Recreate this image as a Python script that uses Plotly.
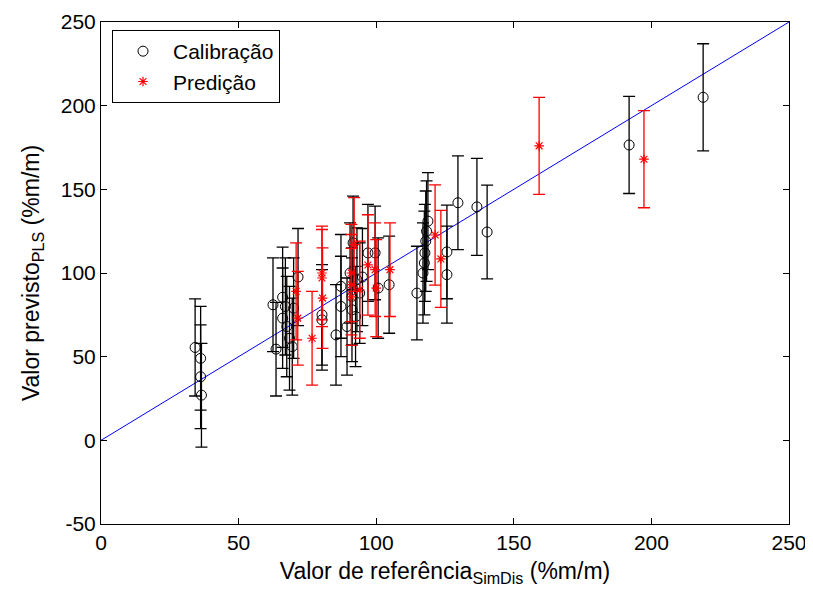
import plotly.graph_objects as go

# calibration set (reference vs PLS prediction, %m/m)
cal_x = [34.2, 36.2, 36.2, 36.5, 62.5, 63.6, 66.0, 66.0, 67.0, 67.5, 68.5, 69.5,
         70.0, 71.6, 80.3, 80.3, 85.4, 87.2, 87.2, 89.4, 90.5, 91.2, 91.2, 91.6,
         92.5, 93.0, 94.0, 95.0, 97.0, 99.6, 100.7, 104.7, 114.8, 117.0, 117.5,
         117.7, 118.0, 118.3, 118.8, 125.7, 125.7, 129.7, 136.6, 140.3, 191.9, 218.8]
cal_y = [55.5, 49.0, 38.0, 27.0, 81.0, 54.5, 85.5, 73.0, 80.0, 68.0, 61.0, 56.0,
         79.0, 97.6, 75.0, 72.0, 63.0, 92.0, 80.0, 68.0, 100.0, 78.0, 86.0, 118.0,
         74.0, 96.0, 88.0, 97.6, 112.0, 112.0, 91.0, 93.0, 88.0, 100.0, 106.0,
         112.0, 119.0, 125.0, 131.0, 112.6, 99.0, 142.0, 139.5, 124.5, 176.5, 205.0]
cal_err = [29, 31, 31, 31, 28, 28, 30, 30, 29, 30, 31, 29,
           30, 29, 30, 30, 30, 31, 30, 29, 30, 31, 29, 28,
           30, 31, 30, 29, 29, 28, 30, 29, 28, 30, 31,
           29, 30, 30, 29, 28, 29, 28, 29, 28, 29, 32]

# prediction set
pred_x = [70.9, 71.5, 76.7, 80.3, 80.3, 80.5, 91.0, 91.0, 91.0, 92.0, 94.0,
          97.0, 99.6, 100.0, 105.0, 121.4, 123.5, 159.2, 197.3]
pred_y = [89.0, 73.0, 61.0, 100.0, 97.0, 85.0, 100.0, 93.0, 85.7, 117.0, 90.0,
          104.8, 102.0, 91.0, 102.0, 122.7, 108.4, 176.0, 168.0]
pred_err = [29, 28, 28, 28, 29, 30, 29, 30, 29, 28, 29,
            30, 28, 29, 28, 30, 29, 29, 29]

fit_x = [0, 250]
fit_y = [0, 250]

x_ticks = [0, 50, 100, 150, 200, 250]
y_ticks = [-50, 0, 50, 100, 150, 200, 250]

fig = go.Figure()
fig.add_trace(go.Scatter(
    x=fit_x, y=fit_y, mode="lines",
    line=dict(color="blue", width=1),
    showlegend=False, hoverinfo="skip",
))
fig.add_trace(go.Scatter(
    x=cal_x, y=cal_y, mode="markers", name="Calibração",
    marker=dict(symbol="circle-open", size=10, color="black", line=dict(width=1)),
    error_y=dict(type="data", array=cal_err, color="black", thickness=1.3, width=6),
))
fig.add_trace(go.Scatter(
    x=pred_x, y=pred_y, mode="markers", name="Predição",
    marker=dict(symbol="asterisk-open", size=8, color="red", line=dict(width=1.2, color="red")),
    error_y=dict(type="data", array=pred_err, color="red", thickness=1.3, width=6),
))

axis_common = dict(
    showline=True, linecolor="black", linewidth=1, mirror="ticks",
    ticks="inside", ticklen=6, tickcolor="black", showgrid=False, zeroline=False,
    tickfont=dict(size=21, color="black"), automargin=False,
)
fig.update_xaxes(
    range=[0, 250], tickvals=x_ticks, ticktext=[str(v) for v in x_ticks],
    title=dict(text="Valor de referência<sub>SimDis</sub> (%m/m)",
               font=dict(size=23, color="black"), standoff=9),
    **axis_common,
)
fig.update_yaxes(
    range=[-50, 250], tickvals=y_ticks, ticktext=[str(v) for v in y_ticks],
    title=dict(text="Valor previsto<sub>PLS</sub> (%m/m)",
               font=dict(size=23, color="black"), standoff=14),
    **axis_common,
)
# page body adds an 8px offset, so the figure is sized to fit the window
fig.update_layout(
    width=805, height=585,
    margin=dict(l=93, r=24, t=14, b=69),
    paper_bgcolor="white", plot_bgcolor="white",
    font=dict(family="Liberation Sans, Arial, sans-serif", color="black"),
    legend=dict(
        x=0.016, y=0.984, xanchor="left", yanchor="top",
        bgcolor="white", bordercolor="black", borderwidth=1,
        font=dict(size=21, color="black"), itemwidth=50,
    ),
)

fig.write_html("out.html")
